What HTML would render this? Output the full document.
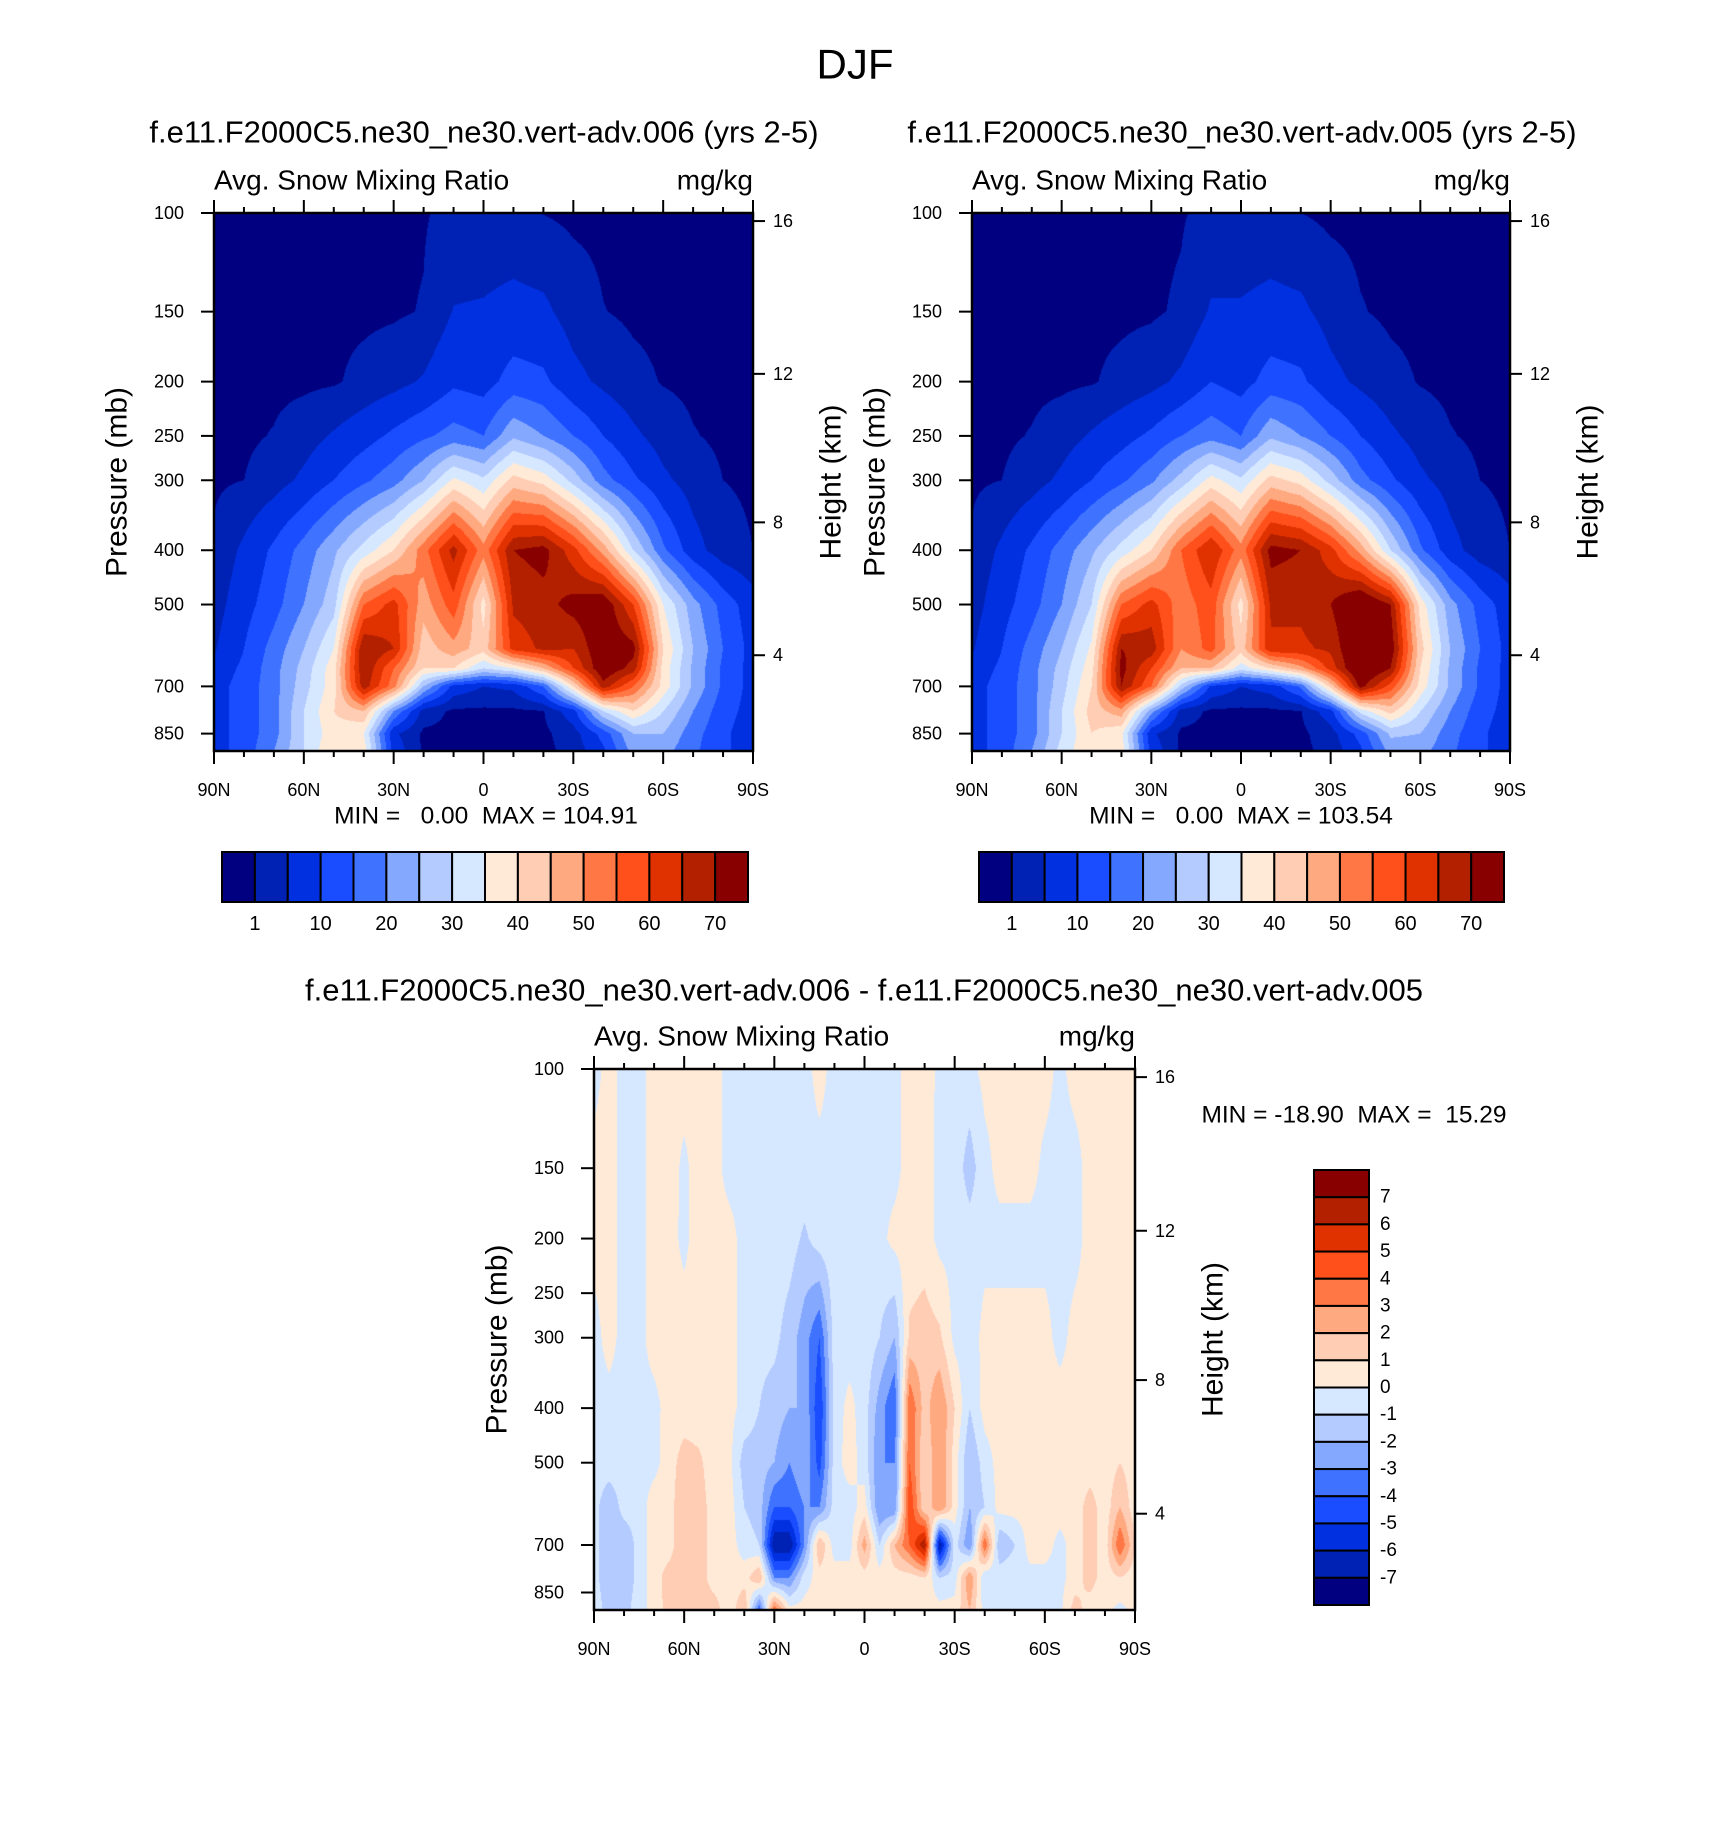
<!DOCTYPE html>
<html><head><meta charset="utf-8">
<style>
html,body{margin:0;padding:0;background:#fff;}
#root{position:relative;width:1710px;height:1830px;overflow:hidden;background:#fff;font-family:"Liberation Sans",sans-serif;}
canvas{position:absolute;}
svg{position:absolute;left:0;top:0;}
</style></head>
<body>
<div id="root">
<canvas id="cL"></canvas>
<canvas id="cR"></canvas>
<canvas id="cD"></canvas>
<svg id="ov" width="1710" height="1830"></svg>
</div>
<script>
// ---------- data ----------
const latsTop = [90,80,70,60,50,40,30,20,10,0,-10,-20,-30,-40,-50,-60,-70,-80,-90];
const presTop = [100,150,200,250,300,400,500,600,650,700,775,850,913];
const fieldLeft = [
[.2,.2,.2,.2,.2,.2,.3,.7,2,2,2,.9,.3,.2,.2,.2,.2,.2,.2],
[.2,.2,.2,.2,.3,.3,.5,1.2,5.2,5.5,6.5,6,3,1.1,.4,.2,.2,.2,.2],
[.2,.2,.2,.3,.6,2,3.5,5.5,9,8,12,11,6.5,4,2,.8,.3,.2,.2],
[.3,.4,1.2,3,5.5,8,11,14,17,15,24,20,15,10,6,3,1.2,.4,.3],
[.5,1,3,6,10,14,18,25,36,31,42,38,28,17,11,6,3,1,.5],
[1.5,6,11,17,24,32,40,53,67,52,70,72,62,48,30,16,7,2.5,1],
[3,8,13,20,28,55,62,47,58,38,66,68,72,75,60,35,22,13,7],
[4.5,10,17,25,35,70,65,42,48,42,62,66,65,75,72,40,25,15,8],
[7,11,18,27,38,70,55,40,40,30,35,45,60,75,68,38,24,14,8],
[8,12,18,28,38,68,52,25,8,5,6,15,40,68,55,38,24,14,8],
[8,12,18,30,40,45,20,3,.3,.3,.3,.8,8,30,40,30,20,12,8],
[8,12,18,30,38,35,6,.3,.2,.2,.2,.2,3,12,25,25,17,11,7],
[8,12,20,30,40,38,8,.3,.2,.2,.2,.2,2,9,22,22,16,11,7]
];
const fieldRight = [
[.2,.2,.2,.2,.2,.2,.3,.7,2,2,2,1,.3,.2,.2,.2,.2,.2,.2],
[.2,.2,.2,.2,.3,.3,.5,1.5,5.5,5.5,6.5,6,3.2,1.2,.4,.2,.2,.2,.2],
[.2,.2,.2,.3,.7,2,3.5,6,10,8,12,11,6.5,4,2,.8,.3,.2,.2],
[.3,.4,1.2,3,5.5,8,11,15,18,15,24,20,15,10,6,3,1.2,.4,.3],
[.5,1,3,6,10,14,19,27,37,31,42,38,28,17,11,6,3,1,.5],
[1.5,6,11,17,24,32,40,55,65,52,72,70,62,48,30,16,7,2.5,1],
[3,8,13,20,30,55,62,52,58,38,66,66,70,78,70,38,22,13,7],
[4.5,10,17,25,36,70,68,50,57,42,64,64,66,78,74,42,25,15,8],
[7,11,18,27,38,72,60,45,45,32,40,48,62,78,70,40,24,14,8],
[8,12,18,28,40,70,55,28,9,5,7,16,42,72,58,38,24,14,8],
[8,12,18,30,42,48,22,3,.3,.3,.3,.8,8,32,42,30,20,12,8],
[8,12,18,30,40,36,6,.3,.2,.2,.2,.2,3,12,26,25,17,11,7],
[8,12,20,32,40,38,8,.3,.2,.2,.2,.2,2,9,22,22,16,11,7]
];
const latsDiff = [90,85,80,75,70,65,60,55,50,45,40,35,30,25,20,15,10,5,0,-5,-10,-15,-20,-25,-30,-35,-40,-45,-50,-55,-60,-65,-70,-75,-80,-85,-90];
const presDiff = [100,150,200,300,400,500,600,700,800,913];
const fieldDiff = [
[-.3,.3,-.3,-.3,.4,.4,.4,.4,.3,-.3,-.3,-.3,-.3,-.3,-.3,.3,-.3,-.3,-.3,-.3,-.3,.4,.6,-.3,-.3,-.3,.3,.3,.3,.3,.3,-.2,.3,.3,.3,.3,.3],
[.3,.3,-.3,-.3,.4,.4,-.2,.4,.3,-.3,-.3,-.3,-.3,-.4,-.3,-.3,-.3,-.3,-.3,-.3,-.3,.4,.5,-.3,-.4,-1.5,-.3,.3,.3,.3,-.2,-.3,-.3,.3,.3,.3,.3],
[.3,.3,-.3,-.3,.4,.3,-.2,.4,.3,.3,-.3,-.3,-.4,-.5,-1.2,-.5,-.3,-.3,-.3,-.3,.3,.4,.5,-.3,-.3,-.5,-.3,-.3,-.3,-.3,-.3,-.3,-.3,.3,.3,.3,.3],
[-.3,.3,-.3,-.3,.4,.4,.4,.3,.3,.3,-.3,-.7,-.7,-1.5,-2.5,-4,-.5,-.5,-.3,-1,-2,1.2,1.5,1.2,-.3,-.5,.3,.3,.3,.3,.3,-.3,.3,.3,.3,.3,.3],
[-.3,-.3,-.3,-.3,-.3,.4,.4,.4,.4,.3,-.3,-1,-1.5,-2,-2,-5,-.5,.3,-.5,-2.5,-4,4,1.5,3,1,-1,.4,.4,.4,.4,.4,.4,.4,.4,.4,.4,.4],
[-.3,-.3,-.3,-.3,-.3,.5,1.5,1.2,.4,.3,-1.5,-1.5,-2,-3,-2,-4.5,-.5,.5,-.5,-3,-3,4,1,3,.5,-2,-.5,.4,.4,.4,.4,.4,.4,.4,.4,1,.4],
[-.5,-2,-.5,-.5,.5,.5,2,1.5,.5,.5,-1,-1.5,-4,-4,-3,-3,-.5,-.5,.5,-3,-3,5,1,3,.5,-2,-1,.4,.4,.4,.4,.4,.4,1.5,.4,2,.4],
[-.5,-2,-2,-.5,.5,.5,2,1.5,.5,.5,-.5,-1,-7,-7,-3,2,-.5,-.5,2.5,-1,2,4,7,-7,-.5,-3,4,-2,-1,.4,.4,-.3,.4,1.5,.4,4,1],
[-.5,-2,-2,-.5,.5,1.5,1.5,1.5,.5,.5,.5,2,-3,-3,-.5,.5,.5,.5,.5,.5,.5,.5,1,-1,-.5,3,-1,-.3,-.3,-.3,-.3,-.3,.4,1.5,.4,1,.4],
[-.3,-1.5,-1.5,-.3,.3,1.5,1.5,1.5,1.5,.3,2,-4,4,.4,.4,.4,.4,.4,.4,.4,.4,.4,.4,.4,.4,2,-.5,-.5,-.3,-.3,-.3,-.3,1.5,.4,.3,-.3,.3]
];
const levelsMain = [1,5,10,15,20,25,30,35,40,45,50,55,60,65,70];
const levelsDiff = [-7,-6,-5,-4,-3,-2,-1,0,1,2,3,4,5,6,7];
const pressureTicks = [100,150,200,250,300,400,500,700,850];
const heightTicks = [16,12,8,4];
const latTicks = [90,60,30,0,-30,-60,-90];
const latTickLabels = ['90N','60N','30N','0','30S','60S','90S'];
const barLabelsMain = ['1','10','20','30','40','50','60','70'];
const PAL = ['#000080','#0022b4','#0030e0','#1a4dff','#3f73ff','#85a8ff','#b4cbff','#d6e8ff','#ffead8','#ffcdb4','#ffa980','#ff7744','#ff4f1a','#e03200','#b32000','#880000'];
const PBOT = 913;
const heightFrac = [0.015,0.299,0.575,0.822];

// ---------- helpers ----------
const NS = 'http://www.w3.org/2000/svg';
const ov = document.getElementById('ov');
function mk(tag, attrs, parent){const e=document.createElementNS(NS,tag);for(const k in attrs)e.setAttribute(k,attrs[k]);(parent||ov).appendChild(e);return e;}
function txt(s,x,y,size,anchor,extra){const t=mk('text',Object.assign({x:x,y:y,'font-size':size,'text-anchor':anchor||'middle','dominant-baseline':'central','font-family':'Liberation Sans, sans-serif',fill:'#000'},extra||{}));t.textContent=s;return t;}
function hex(c){return [parseInt(c.substr(1,2),16),parseInt(c.substr(3,2),16),parseInt(c.substr(5,2),16)];}
const PALRGB = PAL.map(hex);
function pToFrac(p){return Math.log10(p/100)/Math.log10(PBOT/100);}
function latToFrac(l){return (90-l)/180;}
function sample(field,lats,pres,lat,p){
  const step=(lats[0]-lats[lats.length-1])/(lats.length-1);
  let c=(lats[0]-lat)/step; let c0=Math.min(Math.floor(c),lats.length-2); let fc=c-c0;
  const lp=Math.log(p); let r0=0;
  while(r0<pres.length-2 && Math.log(pres[r0+1])<lp) r0++;
  let fr=(lp-Math.log(pres[r0]))/(Math.log(pres[r0+1])-Math.log(pres[r0]));
  fr=Math.max(0,Math.min(1,fr));
  const a=field[r0][c0],b=field[r0][c0+1],d=field[r0+1][c0],e=field[r0+1][c0+1];
  return (a*(1-fc)+b*fc)*(1-fr)+(d*(1-fc)+e*fc)*fr;
}
function colorIdx(v,levels){let i=0;while(i<levels.length&&v>=levels[i])i++;return i;}
function drawField(id,x0,y0,w,h,field,lats,pres,levels){
  const cv=document.getElementById(id);cv.width=w;cv.height=h;cv.style.left=x0+'px';cv.style.top=y0+'px';
  const ctx=cv.getContext('2d');const img=ctx.createImageData(w,h);
  for(let y=0;y<h;y++){const fy=(y+0.5)/h;const p=100*Math.pow(PBOT/100,fy);
    for(let x=0;x<w;x++){const lat=90-180*(x+0.5)/w;const v=sample(field,lats,pres,lat,p);
      const c=PALRGB[colorIdx(v,levels)];const o=(y*w+x)*4;img.data[o]=c[0];img.data[o+1]=c[1];img.data[o+2]=c[2];img.data[o+3]=255;}}
  ctx.putImageData(img,0,0);
}
function drawAxes(x0,y0,w,h,tag){
  const g=mk('g',{});
  
  
  const frame=mk('rect',{x:x0,y:y0,width:w,height:h,fill:'none',stroke:'#000','stroke-width':2.5},g);
  
  
  for(let l=90;l>=-90;l-=10){const x=x0+w*latToFrac(l);const major=(l%30===0);const len=major?13:6;
    const t1=mk('line',{x1:x,x2:x,y1:y0,y2:y0-len,stroke:'#000','stroke-width':2},g);
    
    
    const t2=mk('line',{x1:x,x2:x,y1:y0+h,y2:y0+h+len,stroke:'#000','stroke-width':2},g);
    
    }
  latTicks.forEach((l,i)=>{const t=txt(latTickLabels[i],x0+w*latToFrac(l),y0+h+39,18,'middle');
    
    });
  pressureTicks.forEach(p=>{const y=y0+h*pToFrac(p);
    const l=mk('line',{x1:x0,x2:x0-13,y1:y,y2:y,stroke:'#000','stroke-width':2},g);
    
    
    const t=txt(String(p),x0-30,y,18,'end');
    
    });
  heightTicks.forEach((hk,i)=>{const y=y0+h*heightFrac[i];
    const l=mk('line',{x1:x0+w,x2:x0+w+12,y1:y,y2:y,stroke:'#000','stroke-width':2},g);
    
    
    const t=txt(String(hk),x0+w+20,y,18,'start');
    
    });
  const cy=y0+h*0.5;
  const pt=txt('Pressure (mb)',x0-97,cy,30,'middle',{transform:'rotate(-90 '+(x0-97)+' '+cy+')'});
  
  
  const ht=txt('Height (km)',x0+w+78,cy,30,'middle',{transform:'rotate(-90 '+(x0+w+78)+' '+cy+')'});
  
  
  const a=txt('Avg. Snow Mixing Ratio',x0,y0-33,28,'start');
  
  
  const u=txt('mg/kg',x0+w,y0-33,28,'end');
  
  
}
function hBar(x0,y0,w,h){const bw=w/16;
  for(let i=0;i<16;i++){const r=mk('rect',{x:x0+i*bw,y:y0,width:bw,height:h,fill:PAL[i],stroke:'#000','stroke-width':2});
    
    }
  for(let j=0;j<levelsMain.length;j+=2){const t=txt(barLabelsMain[j/2],x0+(j+1)*bw,y0+h+22,20,'middle');
    
    }
}
function vBar(x0,y0,w,h){const bh=h/16;
  for(let k=0;k<16;k++){const r=mk('rect',{x:x0,y:y0+k*bh,width:w,height:bh,fill:PAL[15-k],stroke:'#000','stroke-width':2});
    
    }
  for(let j=1;j<=15;j++){const lv=levelsDiff[levelsDiff.length-j];const t=txt(String(lv),x0+w+11,y0+j*bh,19,'start');
    
    }
}

// ---------- draw ----------
const L={x:214,y:213,w:539,h:538}, R={x:972,y:213,w:538,h:538}, D={x:594,y:1069,w:541,h:541};
drawField('cL',L.x,L.y,L.w,L.h,fieldLeft,latsTop,presTop,levelsMain);
drawField('cR',R.x,R.y,R.w,R.h,fieldRight,latsTop,presTop,levelsMain);
drawField('cD',D.x,D.y,D.w,D.h,fieldDiff,latsDiff,presDiff,levelsDiff);
drawAxes(L.x,L.y,L.w,L.h,'left');
drawAxes(R.x,R.y,R.w,R.h,'right');
drawAxes(D.x,D.y,D.w,D.h,'diff');
let t;
t=txt('DJF',855,64,42,'middle');


t=txt('f.e11.F2000C5.ne30_ne30.vert-adv.006 (yrs 2-5)',484,132,31,'middle');


t=txt('f.e11.F2000C5.ne30_ne30.vert-adv.005 (yrs 2-5)',1242,132,31,'middle');


t=txt('MIN =   0.00  MAX = 104.91',486,816,24.5,'middle',{'style':'white-space:pre'});


t=txt('MIN =   0.00  MAX = 103.54',1241,816,24.5,'middle',{'style':'white-space:pre'});


t=txt('f.e11.F2000C5.ne30_ne30.vert-adv.006 - f.e11.F2000C5.ne30_ne30.vert-adv.005',864,990,31,'middle');


t=txt('MIN = -18.90  MAX =  15.29',1354,1115,24.5,'middle',{'style':'white-space:pre'});


hBar(222,852,526,50);
hBar(979,852,525,50);
vBar(1314,1170,55,435);
</script>
</body></html>
